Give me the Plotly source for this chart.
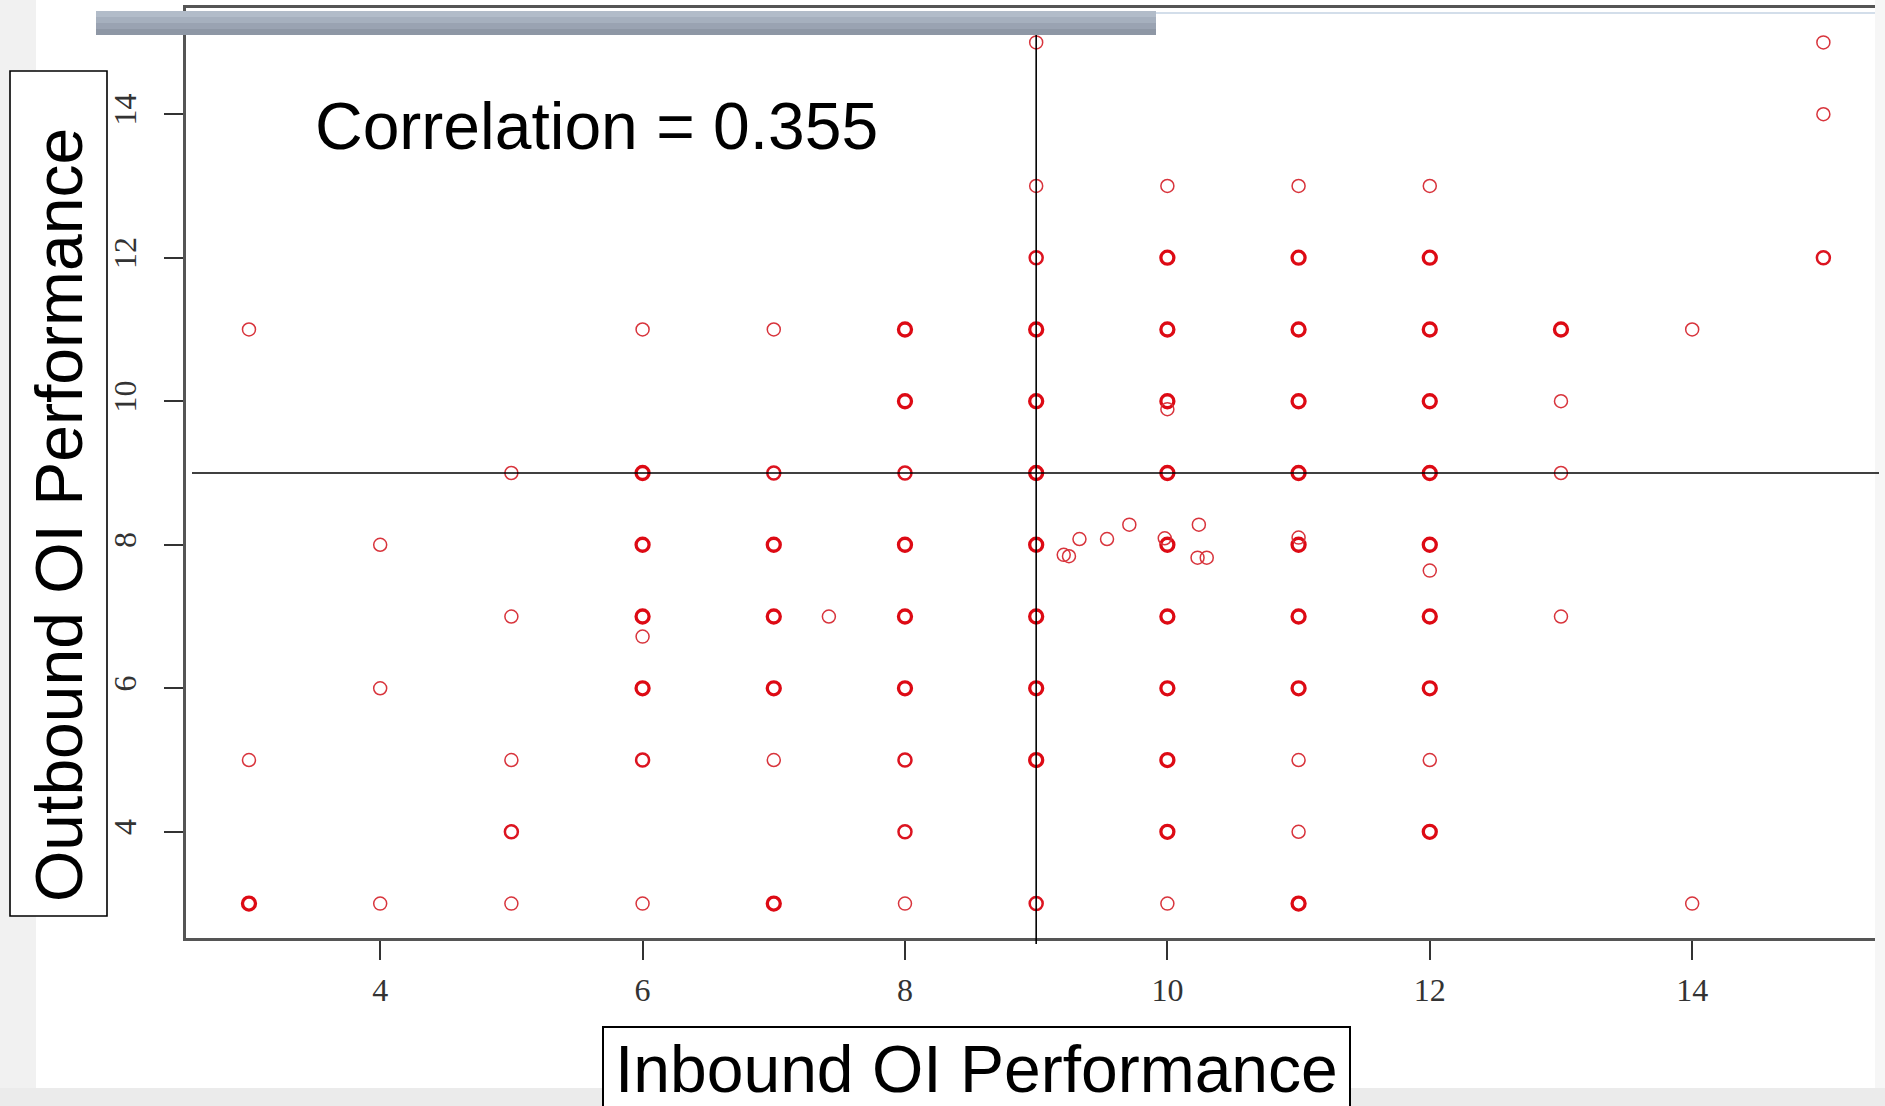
import plotly.graph_objects as go

# ---------------- data ----------------
inbound = [9, 15,
           15,
           9, 10, 11, 12,
           9, 10, 11, 12, 15,
           3, 6, 7, 8, 9, 10, 11, 12, 13, 14,
           8, 9, 10, 11, 12, 13, 10,
           5, 6, 7, 8, 9, 10, 11, 12, 13,
           4, 6, 7, 8, 9, 10, 11, 12,
           9.21, 9.25, 9.33, 9.54, 9.71, 9.98, 10.24, 10.23, 10.30, 11, 12,
           5, 6, 7, 7.42, 8, 9, 10, 11, 12, 13, 6,
           4, 6, 7, 8, 9, 10, 11, 12,
           3, 5, 6, 7, 8, 9, 10, 11, 12,
           5, 8, 10, 11, 12,
           3, 4, 5, 6, 7, 8, 9, 10, 11, 14]
outbound = [15, 15,
            14,
            13, 13, 13, 13,
            12, 12, 12, 12, 12,
            11, 11, 11, 11, 11, 11, 11, 11, 11, 11,
            10, 10, 10, 10, 10, 10, 9.89,
            9, 9, 9, 9, 9, 9, 9, 9, 9,
            8, 8, 8, 8, 8, 8, 8, 8,
            7.86, 7.84, 8.08, 8.08, 8.28, 8.09, 8.28, 7.82, 7.82, 8.10, 7.64,
            7, 7, 7, 7, 7, 7, 7, 7, 7, 7, 6.72,
            6, 6, 6, 6, 6, 6, 6, 6,
            5, 5, 5, 5, 5, 5, 5, 5, 5,
            4, 4, 4, 4, 4,
            3, 3, 3, 3, 3, 3, 3, 3, 3, 3]
# approximate number of overlapping observations at each plotted position
overlap = [1, 1,
           1,
           1, 1, 1, 1,
           2, 3, 3, 3, 2,
           1, 1, 1, 3, 3, 3, 3, 3, 3, 1,
           3, 3, 3, 3, 3, 1, 1,
           1, 3, 2, 2, 3, 3, 3, 3, 1,
           1, 3, 3, 3, 3, 3, 3, 3,
           1, 1, 1, 1, 1, 1, 1, 1, 1, 1, 1,
           1, 3, 3, 1, 3, 3, 3, 3, 3, 1, 1,
           1, 3, 3, 3, 3, 3, 3, 3,
           1, 1, 2, 1, 2, 3, 3, 1, 1,
           2, 2, 3, 1, 3,
           3, 1, 1, 1, 3, 1, 2, 1, 3, 1]

x_ticks = [4, 6, 8, 10, 12, 14]
y_ticks = [4, 6, 8, 10, 12, 14]
ref_inbound = 9      # vertical reference line
ref_outbound = 9     # horizontal reference line
correlation_text = "Correlation = 0.355"
x_title = "Inbound OI Performance"
y_title = "Outbound OI Performance"

# ---------------- layout geometry ----------------
W, H = 1885, 1106
ML, MR, MT, MB = 186, 10, 8, 168
PW, PH = W - ML - MR, H - MT - MB
X_RANGE = [2.52, 2.52 + PW / 131.2]
Y_RANGE = [2.52, 15.48]


def px(xp):
    return (xp - ML) / PW


def py(yp):
    return (H - MB - yp) / PH


lw_map = {1: 1.5, 2: 2.5, 3: 3.3}
col_map = {1: "#d8343c", 2: "#dc1420", 3: "#dd0a14"}

fig = go.Figure()
fig.add_trace(go.Scatter(
    x=inbound, y=outbound, mode="markers",
    marker=dict(symbol="circle-open", size=13,
                color=[col_map[n] for n in overlap],
                line=dict(width=[lw_map[n] for n in overlap],
                          color=[col_map[n] for n in overlap])),
    hoverinfo="x+y", showlegend=False,
))

tickfont = dict(family="Liberation Serif, Times New Roman, serif", size=32, color="#333333")
fig.update_xaxes(range=X_RANGE, tickvals=x_ticks, ticks="outside", ticklen=19,
                 tickwidth=1.5, tickcolor="#333333", tickfont=tickfont,
                 showline=True, linecolor="#555555", linewidth=2.5, mirror=True,
                 showgrid=False, zeroline=False, ticklabelstandoff=3)
fig.update_yaxes(range=Y_RANGE, tickvals=y_ticks, ticks="outside", ticklen=19,
                 tickwidth=1.5, tickcolor="#333333", tickfont=tickfont, tickangle=-90,
                 showline=True, linecolor="#555555", linewidth=2.5, mirror=False,
                 showgrid=False, zeroline=False, ticklabelstandoff=15)

shapes = [
    # slide background
    dict(type="rect", xref="paper", yref="paper", x0=px(36), x1=px(1875), y0=py(1088), y1=py(-5),
         fillcolor="white", line=dict(width=0), layer="below"),
    dict(type="rect", xref="paper", yref="paper", x0=px(-5), x1=px(36), y0=py(1088), y1=py(-5),
         fillcolor="#f1f1f1", line=dict(width=0), layer="below"),
    dict(type="rect", xref="paper", yref="paper", x0=px(1875), x1=px(1890), y0=py(1088), y1=py(-5),
         fillcolor="#f6f6f6", line=dict(width=0), layer="below"),
    # reference lines
    dict(type="line", xref="x", yref="paper", x0=ref_inbound, x1=ref_inbound, y0=py(944), y1=py(34),
         line=dict(color="black", width=1.6)),
    dict(type="line", xref="paper", yref="y", x0=px(192), x1=px(1879), y0=ref_outbound, y1=ref_outbound,
         line=dict(color="black", width=1.6)),
    # thin light line at the top
    dict(type="line", xref="paper", yref="paper", x0=px(1156), x1=px(1875), y0=py(13), y1=py(13),
         line=dict(color="#c5d3e3", width=1.5), layer="above"),
]
# slide title bar (gradient approximated by bands)
bands = ["#b2bcc9", "#a6b0be", "#9aa3b2", "#8e97a5"]
for i, c in enumerate(bands):
    shapes.append(dict(type="rect", xref="paper", yref="paper",
                       x0=px(96), x1=px(1156), y0=py(11 + 6 * (i + 1)), y1=py(11 + 6 * i),
                       fillcolor=c, line=dict(width=0), layer="above"))
# label boxes
shapes.append(dict(type="rect", xref="paper", yref="paper", x0=px(10), x1=px(107), y0=py(916), y1=py(71),
                   fillcolor="white", line=dict(color="black", width=1.6), layer="above"))
shapes.append(dict(type="rect", xref="paper", yref="paper", x0=px(603), x1=px(1350), y0=py(1120), y1=py(1027),
                   fillcolor="white", line=dict(color="black", width=2), layer="above"))

labfont = dict(family="Liberation Sans, Arial, sans-serif", size=66, color="black")
annotations = [
    dict(text=correlation_text, xref="paper", yref="paper", x=px(313), y=py(126),
         xanchor="left", yanchor="middle", showarrow=False, font=labfont),
    dict(text=y_title, xref="paper", yref="paper", x=px(59), y=py(515), textangle=-90,
         xanchor="center", yanchor="middle", showarrow=False, font=labfont),
    dict(text=x_title, xref="paper", yref="paper", x=px(976), y=py(1069),
         xanchor="center", yanchor="middle", showarrow=False, font=labfont),
]

fig.update_layout(width=W, height=H, margin=dict(l=ML, r=MR, t=MT, b=MB, autoexpand=False),
                  paper_bgcolor="#ebebeb", plot_bgcolor="rgba(0,0,0,0)",
                  shapes=shapes, annotations=annotations, showlegend=False)

fig.write_html("out.html", config={"displayModeBar": False},
               post_script="document.body.style.margin='0px';")
